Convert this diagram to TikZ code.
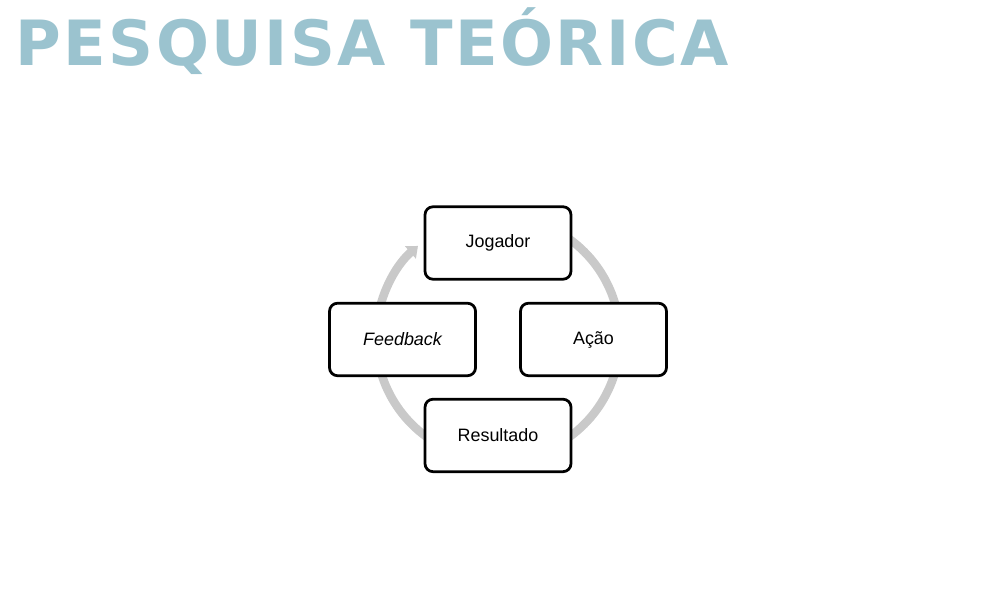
\documentclass[tikz,border=0pt]{standalone}
\usepackage{fontspec}
\setmainfont{Liberation Sans}
\newfontfamily\titlefont[LetterSpace=4]{DejaVu Sans}
\usetikzlibrary{positioning,arrows.meta}
\definecolor{titleblue}{HTML}{9BC3CF}
\definecolor{ringgray}{HTML}{C9C9C9}

\begin{document}
\begin{tikzpicture}[x=0.02cm, y=0.02cm, on grid, node distance=1.93cm and 1.91cm,
    stage/.style={draw, line width=0.055cm, rounded corners=0.16cm, fill=white,
      minimum width=2.92cm, minimum height=1.45cm, font=\fontsize{10.2}{12}\selectfont},
    ring/.style={draw=ringgray, line width=0.17cm}]
  \useasboundingbox (0,0) rectangle (996,614);

  \node[anchor=base west, inner sep=0, text=titleblue,
    font=\titlefont\bfseries\fontsize{35.5}{40}\selectfont] (title) at (15,548) {PESQUISA TEÓRICA};

  % ring behind the boxes
  \coordinate (c) at (498,276);
  \draw[ring] ([shift={(80:2.44cm)}]c) arc[start angle=80, end angle=10, radius=2.44cm];
  \draw[ring] ([shift={(-10:2.44cm)}]c) arc[start angle=-10, end angle=-80, radius=2.44cm];
  \draw[ring] ([shift={(-100:2.44cm)}]c) arc[start angle=-100, end angle=-170, radius=2.44cm];
  \draw[ring, -{Triangle[width=0.32cm, length=0.2cm]}]
    ([shift={(170:2.44cm)}]c) arc[start angle=170, end angle=131, radius=2.44cm];

  \node[stage] (jog) at (498,371) {Jogador};
  \node[stage, below right=of jog] (acao) {Ação};
  \node[stage, below left=of jog] (feed) {\itshape Feedback};
  \node[stage, below=3.85cm of jog] (res) {Resultado};
\end{tikzpicture}
\end{document}
